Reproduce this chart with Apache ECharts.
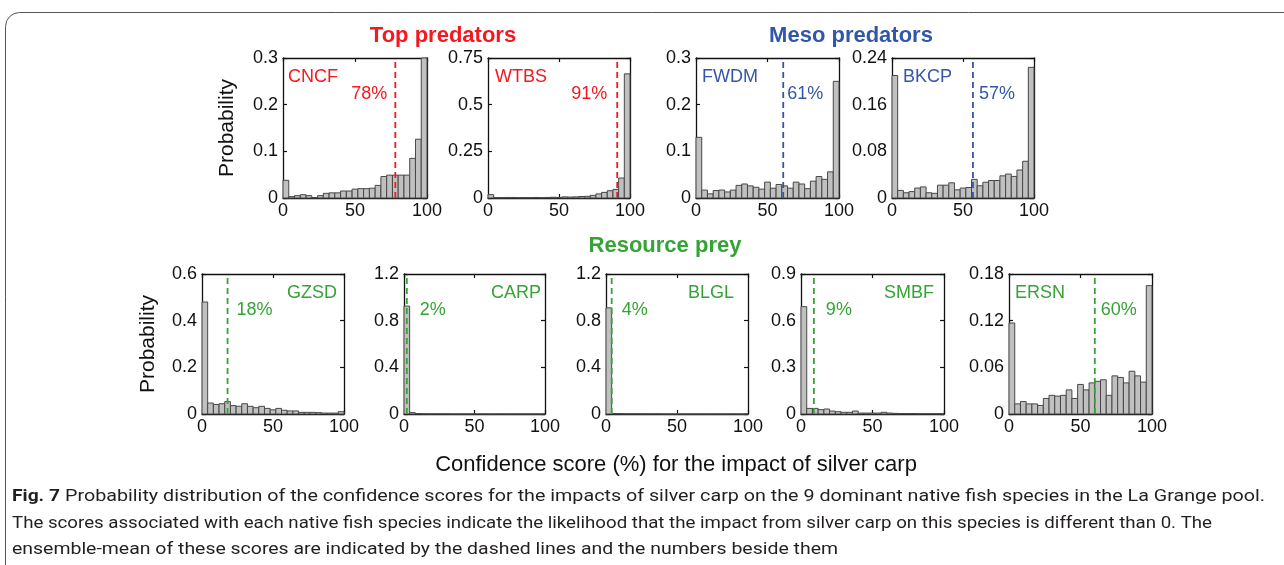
<!DOCTYPE html>
<html>
<head>
<meta charset="utf-8">
<title>Fig. 7</title>
<script src="https://cdn.jsdelivr.net/npm/echarts@6/dist/echarts.min.js"></script>
<style>
html, body { margin: 0; padding: 0; background: #fff; }
#main { width: 1284px; height: 565px; }
</style>
</head>
<body>
<div id="main"></div>
<script>
// histogram bins: 25 bins of 4 % each
const binEdges = [0, 4, 8, 12, 16, 20, 24, 28, 32, 36, 40, 44, 48, 52, 56, 60, 64, 68, 72, 76, 80, 84, 88, 92, 96, 100];
const xTicks = [0, 50, 100];

// probability per bin
const cncf = [0.038, 0.003, 0.005, 0.007, 0.005, 0.001, 0.005, 0.010, 0.011, 0.011, 0.015, 0.015, 0.019, 0.020, 0.020, 0.021, 0.027, 0.046, 0.049, 0.049, 0.049, 0.049, 0.085, 0.126, 0.300];
const wtbs = [0.018, 0.002, 0.002, 0.003, 0.003, 0.002, 0.002, 0.002, 0.003, 0.002, 0.003, 0.004, 0.003, 0.006, 0.005, 0.006, 0.008, 0.009, 0.014, 0.022, 0.030, 0.039, 0.046, 0.107, 0.665];
const fwdm = [0.130, 0.017, 0.009, 0.016, 0.017, 0.013, 0.017, 0.027, 0.030, 0.026, 0.023, 0.019, 0.034, 0.021, 0.029, 0.026, 0.021, 0.034, 0.030, 0.020, 0.036, 0.046, 0.040, 0.056, 0.250];
const bkcp = [0.210, 0.013, 0.009, 0.011, 0.017, 0.019, 0.009, 0.008, 0.022, 0.022, 0.026, 0.014, 0.017, 0.018, 0.032, 0.021, 0.027, 0.030, 0.030, 0.038, 0.041, 0.037, 0.048, 0.063, 0.224];
const gzsd = [0.480, 0.047, 0.041, 0.044, 0.053, 0.036, 0.033, 0.044, 0.033, 0.027, 0.033, 0.024, 0.018, 0.024, 0.016, 0.013, 0.013, 0.007, 0.007, 0.007, 0.006, 0.004, 0.004, 0.004, 0.010];
const carp = [0.925, 0.012, 0.004, 0.002, 0.001, 0.001, 0.001, 0.001, 0, 0, 0, 0, 0, 0, 0, 0, 0, 0, 0, 0, 0, 0, 0, 0, 0];
const blgl = [0.910, 0.004, 0.003, 0.002, 0.002, 0.002, 0.001, 0.001, 0.001, 0.001, 0, 0, 0, 0, 0, 0, 0, 0, 0, 0, 0, 0, 0, 0, 0];
const smbf = [0.690, 0.036, 0.036, 0.028, 0.032, 0.019, 0.015, 0.011, 0.011, 0.019, 0.006, 0.006, 0.006, 0.006, 0.011, 0.006, 0.004, 0.003, 0.003, 0.003, 0.002, 0.002, 0.002, 0.002, 0.002];
const ersn = [0.117, 0.013, 0.016, 0.013, 0.013, 0.011, 0.020, 0.024, 0.023, 0.024, 0.031, 0.020, 0.038, 0.031, 0.040, 0.042, 0.044, 0.024, 0.049, 0.047, 0.040, 0.055, 0.049, 0.041, 0.165];

// y tick labels per panel
const yTicksCNCF = [0, 0.1, 0.2, 0.3];
const yTicksWTBS = [0, 0.25, 0.5, 0.75];
const yTicksFWDM = [0, 0.1, 0.2, 0.3];
const yTicksBKCP = [0, 0.08, 0.16, 0.24];
const yTicksGZSD = [0, 0.2, 0.4, 0.6];
const yTicksCARP = [0, 0.4, 0.8, 1.2];
const yTicksBLGL = [0, 0.4, 0.8, 1.2];
const yTicksSMBF = [0, 0.3, 0.6, 0.9];
const yTicksERSN = [0, 0.06, 0.12, 0.18];

// ensemble-mean confidence scores (%)
const species = ['CNCF', 'WTBS', 'FWDM', 'BKCP', 'GZSD', 'CARP', 'BLGL', 'SMBF', 'ERSN'];
const meanScores = [78, 91, 61, 57, 18, 2, 4, 9, 60];

const RED = '#f5181e';
const BLUE = '#3357a8';
const GREEN = '#35a335';
const FONT = 'Liberation Sans, Arial, sans-serif';

// layout: [left, top, width, height], label placement
const panels = [
  { data: cncf, ticks: yTicksCNCF, color: RED,   box: [283, 58, 144, 140], nameRight: false, nameDx: 5,   pctLeft: true,  pctDx: 8 },
  { data: wtbs, ticks: yTicksWTBS, color: RED,   box: [488, 58, 142, 140], nameRight: false, nameDx: 7,   pctLeft: true,  pctDx: 10 },
  { data: fwdm, ticks: yTicksFWDM, color: BLUE,  box: [696, 58, 143, 140], nameRight: false, nameDx: 6,   pctLeft: false, pctDx: 4 },
  { data: bkcp, ticks: yTicksBKCP, color: BLUE,  box: [892, 58, 142, 140], nameRight: false, nameDx: 11,  pctLeft: false, pctDx: 6 },
  { data: gzsd, ticks: yTicksGZSD, color: GREEN, box: [202, 274, 142, 140], nameRight: true, nameDx: -7,  pctLeft: false, pctDx: 9 },
  { data: carp, ticks: yTicksCARP, color: GREEN, box: [404, 274, 141, 140], nameRight: true, nameDx: -4,  pctLeft: false, pctDx: 13 },
  { data: blgl, ticks: yTicksBLGL, color: GREEN, box: [606, 274, 142, 140], nameRight: true, nameDx: -14, pctLeft: false, pctDx: 10 },
  { data: smbf, ticks: yTicksSMBF, color: GREEN, box: [801, 274, 143, 140], nameRight: true, nameDx: -10, pctLeft: false, pctDx: 12 },
  { data: ersn, ticks: yTicksERSN, color: GREEN, box: [1009, 274, 143, 140], nameRight: false, nameDx: 6, pctLeft: false, pctDx: 6 }
];

const chart = echarts.init(document.getElementById('main'));

function renderBar(params, api) {
  const p0 = api.coord([api.value(0), 0]);
  const p1 = api.coord([api.value(1), api.value(2)]);
  return {
    type: 'rect',
    shape: { x: p0[0], y: p1[1], width: p1[0] - p0[0], height: p0[1] - p1[1] },
    style: { fill: '#c0c0c0', stroke: '#474747', lineWidth: 1 }
  };
}

const grid = [], xAxis = [], yAxis = [], series = [];
const axisLine = { show: true, onZero: false, lineStyle: { color: '#111', width: 1.3 } };
const axisTick = { show: true, inside: true, length: 4, lineStyle: { color: '#111', width: 1.2 } };

panels.forEach((p, i) => {
  const ymax = p.ticks[p.ticks.length - 1];
  grid.push({ left: p.box[0], top: p.box[1], width: p.box[2], height: p.box[3] });
  xAxis.push({
    gridIndex: i, type: 'value', min: xTicks[0], max: xTicks[xTicks.length - 1], interval: xTicks[1] - xTicks[0],
    axisLine, axisTick, splitLine: { show: false },
    axisLabel: { fontSize: 18, color: '#111', fontFamily: FONT, margin: 4 }
  });
  xAxis.push({
    gridIndex: i, type: 'value', position: 'top', min: xTicks[0], max: xTicks[xTicks.length - 1], interval: xTicks[1] - xTicks[0],
    axisLine, axisTick, splitLine: { show: false }, axisLabel: { show: false }
  });
  yAxis.push({
    gridIndex: i, type: 'value', min: 0, max: ymax, interval: p.ticks[1] - p.ticks[0],
    axisLine, axisTick, splitLine: { show: false },
    axisLabel: { fontSize: 18, color: '#111', fontFamily: FONT, margin: 5 },
    name: (i === 0 || i === 4) ? 'Probability' : '',
    nameLocation: 'middle', nameGap: i === 0 ? 45 : 43,
    nameTextStyle: { fontSize: 21, color: '#111', fontFamily: FONT }
  });
  yAxis.push({
    gridIndex: i, type: 'value', position: 'right', min: 0, max: ymax, interval: p.ticks[1] - p.ticks[0],
    axisLine, axisTick, splitLine: { show: false }, axisLabel: { show: false }
  });

  const xi = i * 2, yi = i * 2;
  series.push({
    type: 'custom', xAxisIndex: xi, yAxisIndex: yi, silent: true,
    renderItem: renderBar,
    data: p.data.map((v, k) => [binEdges[k], binEdges[k + 1], v])
  });
  // dashed ensemble-mean line
  series.push({
    type: 'line', xAxisIndex: xi, yAxisIndex: yi, silent: true, symbol: 'none',
    lineStyle: { color: p.color, width: 1.8, type: [6, 4] },
    data: [[meanScores[i], 0], [meanScores[i], ymax]]
  });
  // species name and mean label
  series.push({
    type: 'scatter', xAxisIndex: xi, yAxisIndex: yi, silent: true, symbolSize: 0,
    itemStyle: { opacity: 1 },
    data: [
      { value: [p.nameRight ? 100 : 0, ymax], label: { formatter: species[i], align: p.nameRight ? 'right' : 'left', offset: [p.nameDx, 19] } },
      { value: [meanScores[i], ymax], label: { formatter: meanScores[i] + '%', align: p.pctLeft ? 'right' : 'left', offset: [p.pctLeft ? -p.pctDx : p.pctDx, 36] } }
    ],
    label: { show: true, opacity: 1, position: 'inside', verticalAlign: 'middle', color: p.color, fontSize: 18, fontFamily: FONT }
  });
});

// caption text, condensed to the measured line widths
const ctx = document.createElement('canvas').getContext('2d');
function fitScale(text, font, target) {
  ctx.font = font;
  return target / ctx.measureText(text).width;
}
const capFont = '17px Roboto';
const cap1 = 'Probability distribution of the confidence scores for the impacts of silver carp on the 9 dominant native fish species in the La Grange pool.';
const cap2 = 'The scores associated with each native fish species indicate the likelihood that the impact from silver carp on this species is different than 0. The';
const cap3 = 'ensemble-mean of these scores are indicated by the dashed lines and the numbers beside them';
const s1 = fitScale(cap1, capFont, 1200);
const s2 = fitScale(cap2, capFont, 1200);
const s3 = fitScale(cap3, capFont, 826);
const sFig = fitScale('Fig. 7', 'bold 17px Roboto', 48);

function capText(x, y, text, sx, bold) {
  return {
    type: 'text', x: x, y: y, scaleX: sx, silent: true,
    style: { text: text, fill: '#231f20', font: (bold ? 'bold ' : '') + capFont, textVerticalAlign: 'middle' }
  };
}

chart.setOption({
  backgroundColor: '#fff',
  animation: false,
  grid, xAxis, yAxis, series,
  graphic: [
    { type: 'rect', silent: true, shape: { x: 5.5, y: 12.5, width: 1320, height: 620, r: 14 }, style: { fill: 'none', stroke: '#555', lineWidth: 1 } },
    { type: 'text', x: 443, y: 36, silent: true, style: { text: 'Top predators', fill: RED, font: 'bold 22px ' + FONT, textAlign: 'center', textVerticalAlign: 'middle' } },
    { type: 'text', x: 851, y: 36, silent: true, style: { text: 'Meso predators', fill: BLUE, font: 'bold 22px ' + FONT, textAlign: 'center', textVerticalAlign: 'middle' } },
    { type: 'text', x: 665, y: 246, silent: true, style: { text: 'Resource prey', fill: GREEN, font: 'bold 22px ' + FONT, textAlign: 'center', textVerticalAlign: 'middle' } },
    { type: 'text', x: 676, y: 465, silent: true, style: { text: 'Confidence score (%) for the impact of silver carp', fill: '#111', font: '22px ' + FONT, textAlign: 'center', textVerticalAlign: 'middle' } },
    capText(12, 497, 'Fig. 7', sFig, true),
    capText(65, 497, cap1, s1, false),
    capText(12, 524, cap2, s2, false),
    capText(12, 550, cap3, s3, false)
  ]
});
</script>
</body>
</html>
